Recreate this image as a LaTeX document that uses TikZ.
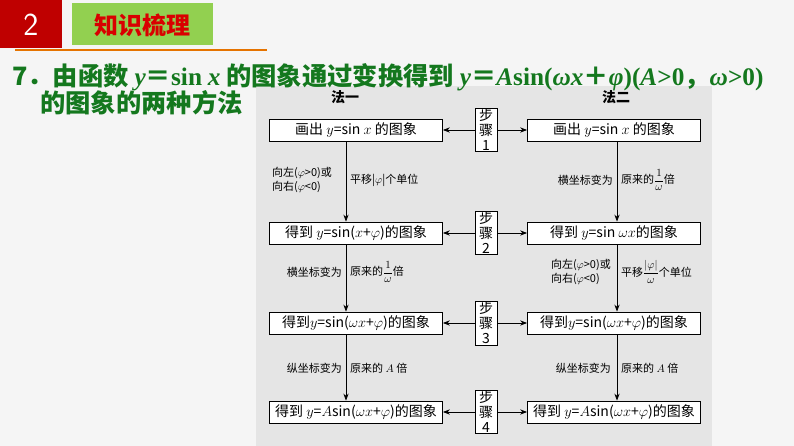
\documentclass[tikz,border=0pt]{standalone}
\usepackage{fontspec}
\setmainfont{Liberation Serif}
\newfontfamily\cjk{Noto Sans CJK SC}
\usetikzlibrary{arrows.meta}
\definecolor{tgreen}{RGB}{20,120,30}
\definecolor{lgreen}{RGB}{146,208,80}
\newcommand\lt[1]{{\rmfamily\bfseries\itshape #1}}
\newcommand\lr[1]{{\rmfamily\bfseries #1}}
\newcommand\fr[2]{$\displaystyle\frac{#1}{#2}$}
\begin{document}
\begin{tikzpicture}[x=1pt,y=-1pt,
 bx/.style={draw,thick,fill=white,minimum width=173pt,minimum height=22pt,inner sep=1pt,font=\fontsize{14}{16}\selectfont\cjk},
 st/.style={draw,thick,fill=white,minimum width=22pt,text width=14pt,align=center,inner sep=1pt,font=\fontsize{14}{15}\selectfont\cjk},
 lb/.style={font=\fontsize{11}{14}\selectfont\cjk,align=left,inner sep=1pt},
 ar/.style={-{Stealth[length=7pt]},thick}]
\useasboundingbox (0,0) rectangle (794,446);
\fill[white!96!black] (0,0) rectangle (794,446);
\fill[red!75!black] (0,0) rectangle (62,48);
\node[white,font=\fontsize{32}{32}\selectfont\sffamily] (n2) at (31,25) {2};
\fill[lgreen] (72,3) rectangle (213,45);
\node[red!85!black,font=\fontsize{24}{24}\selectfont\cjk\bfseries] (zs) at (142,25) {知识梳理};
\draw[orange!90!black,line width=2pt] (15,50) -- (267,50);
\fill[black!10] (256,86) rectangle (712,446);
\node[tgreen,anchor=west,font=\fontsize{25.3}{28}\selectfont\cjk\bfseries,inner sep=0] (t1) at (12,77) {7．由函数 \lt{y}＝\lr{sin} \lt{x} 的图象通过变换得到 \lt{y}＝\lt{A}\lr{sin(}\lt{ωx}＋\lt{φ}\lr{)(}\lt{A}\lr{>0}，\lt{ω}\lr{>0)}};
\node[tgreen,anchor=west,font=\fontsize{25.3}{28}\selectfont\cjk\bfseries,inner sep=0] (t2) at (40,103) {的图象的两种方法};
\node[font=\fontsize{14}{14}\selectfont\cjk\bfseries] (f1) at (345,97) {法一};
\node[font=\fontsize{14}{14}\selectfont\cjk\bfseries] (f2) at (616,97) {法二};
\node[bx] (l1) at (356,130) {画出 $y$=sin $x$ 的图象};
\node[bx] (r1) at (614,130) {画出 $y$=sin $x$ 的图象};
\node[bx] (l2) at (356,233) {得到 $y$=sin($x$+$\varphi$)的图象};
\node[bx] (r2) at (614,233) {得到 $y$=sin $\omega x$的图象};
\node[bx] (l3) at (356,323) {得到$y$=sin($\omega x$+$\varphi$)的图象};
\node[bx] (r3) at (614,323) {得到$y$=sin($\omega x$+$\varphi$)的图象};
\node[bx] (l4) at (356,412) {得到 $y$=$A$sin($\omega x$+$\varphi$)的图象};
\node[bx] (r4) at (614,412) {得到 $y$=$A$sin($\omega x$+$\varphi$)的图象};
\foreach \i/\y in {1/130,2/233,3/323,4/412}{
 \node[st] (s\i) at (486,\y) {步\\骤\\{\fontsize{14}{14}\selectfont\i}};
 \draw[ar] (s\i) -- (l\i); \draw[ar] (s\i) -- (r\i);}
\foreach \a/\b in {l1/l2,l2/l3,l3/l4}{\draw[ar] (\a.south) ++(-10pt,0) coordinate (c\a) -- (c\a |- \b.north);}
\foreach \a/\b in {r1/r2,r2/r3,r3/r4}{\draw[ar] (\a.south) ++(3pt,0) coordinate (c\a) -- (c\a |- \b.north);}
\node[lb] (a1) at (302,180) {向左($\varphi$>0)或\\向右($\varphi$<0)};
\node[lb,anchor=west] (a2) at (349,180) {平移|$\varphi$|个单位};
\node[lb,anchor=east] (a3) at (614,180) {横坐标变为};
\node[lb,anchor=west] (a4) at (620,180) {原来的\fr{1}{\omega}倍};
\node[lb,anchor=east] (b1) at (343,272) {横坐标变为};
\node[lb,anchor=west] (b2) at (349,272) {原来的\fr{1}{\omega}倍};
\node[lb,anchor=east] (b3) at (612,272) {向左($\varphi$>0)或\\向右($\varphi$<0)};
\node[lb,anchor=west] (b4) at (620,272) {平移\fr{|\varphi|}{\omega}个单位};
\node[lb,anchor=east] (c1) at (343,368) {纵坐标变为};
\node[lb,anchor=west] (c2) at (349,368) {原来的 $A$ 倍};
\node[lb,anchor=east] (c3) at (612,368) {纵坐标变为};
\node[lb,anchor=west] (c4) at (620,368) {原来的 $A$ 倍};
\end{tikzpicture}
\end{document}
